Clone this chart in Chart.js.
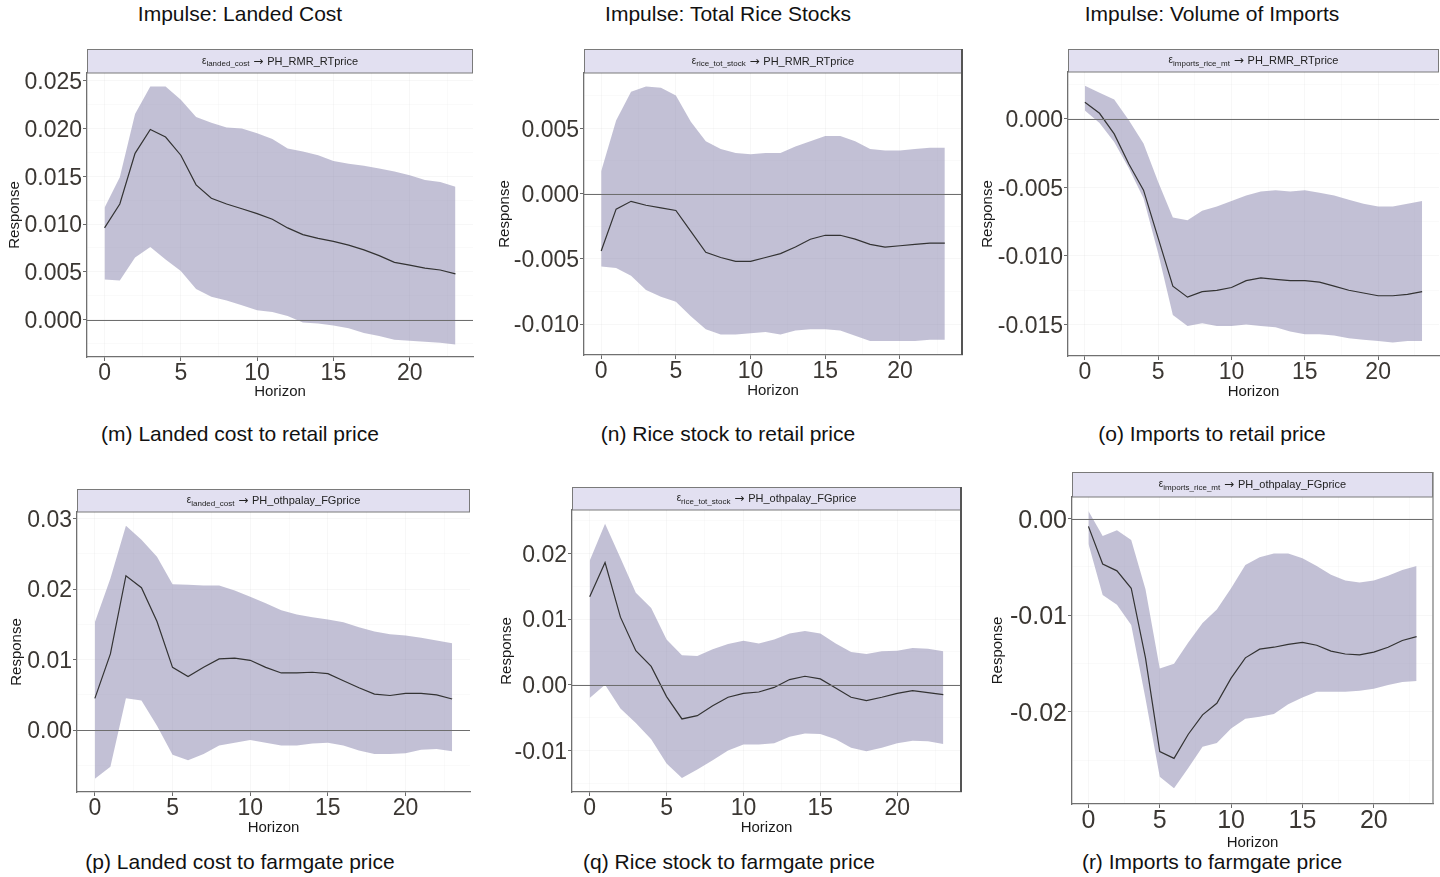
<!DOCTYPE html>
<html>
<head>
<meta charset="utf-8">
<script src="https://cdn.jsdelivr.net/npm/chart.js@4/dist/chart.umd.min.js"></script>
<style>
  body { margin: 0; width: 1440px; height: 877px; background: #fff; position: relative; overflow: hidden;
         font-family: "Liberation Sans", Arial, sans-serif; }
  .lbl { position: absolute; font-size: 21px; line-height: 24px; color: #111; white-space: nowrap; transform: translateX(-50%); }
  .panel { position: absolute; }
</style>
</head>
<body>

<div class="lbl" style="left:240px; top:2px;">Impulse: Landed Cost</div>
<div class="lbl" style="left:728px; top:2px;">Impulse: Total Rice Stocks</div>
<div class="lbl" style="left:1212px; top:2px;">Impulse: Volume of Imports</div>

<div class="lbl" style="left:240px; top:422px;">(m) Landed cost to retail price</div>
<div class="lbl" style="left:728px; top:422px;">(n) Rice stock to retail price</div>
<div class="lbl" style="left:1212px; top:422px;">(o) Imports to retail price</div>
<div class="lbl" style="left:240px; top:850px;">(p) Landed cost to farmgate price</div>
<div class="lbl" style="left:729px; top:850px;">(q) Rice stock to farmgate price</div>
<div class="lbl" style="left:1212px; top:850px;">(r) Imports to farmgate price</div>

<div id="panels"></div>

<script>
const horizon = [0,1,2,3,4,5,6,7,8,9,10,11,12,13,14,15,16,17,18,19,20,21,22,23];
const xTicks = [0, 5, 10, 15, 20];

// (m) landed cost -> retail price
const landedRetailIrf   = [0.0096,0.0121,0.0174,0.0199,0.0191,0.0172,0.0141,0.0127,0.0121,0.0116,0.0111,0.0105,0.0096,0.0089,0.0085,0.0082,0.0078,0.0073,0.0067,0.0060,0.0057,0.0054,0.0052,0.0048];
const landedRetailUpper = [0.0117,0.0149,0.0215,0.0244,0.0244,0.0230,0.0212,0.0206,0.0201,0.0200,0.0195,0.0189,0.0179,0.0176,0.0172,0.0166,0.0163,0.0161,0.0158,0.0155,0.0151,0.0146,0.0144,0.0139];
const landedRetailLower = [0.0042,0.0041,0.0065,0.0076,0.0063,0.0051,0.0032,0.0024,0.0020,0.0015,0.0010,0.0008,0.0004,-0.0003,-0.0004,-0.0006,-0.0009,-0.0014,-0.0017,-0.0021,-0.0022,-0.0023,-0.0024,-0.0026];
const landedRetailTicks = [0, 0.005, 0.01, 0.015, 0.02, 0.025];

// (n) rice stock -> retail price
const stockRetailIrf   = [-0.0044,-0.0012,-0.0006,-0.0009,-0.0011,-0.0013,-0.0029,-0.0045,-0.0049,-0.0052,-0.0052,-0.0049,-0.0046,-0.0041,-0.0035,-0.0032,-0.0032,-0.0035,-0.0039,-0.0041,-0.0040,-0.0039,-0.0038,-0.0038];
const stockRetailUpper = [0.0017,0.0056,0.0078,0.0082,0.0081,0.0075,0.0055,0.0040,0.0034,0.0031,0.0030,0.0031,0.0031,0.0036,0.0040,0.0044,0.0044,0.0040,0.0034,0.0033,0.0033,0.0034,0.0035,0.0035];
const stockRetailLower = [-0.0056,-0.0057,-0.0063,-0.0074,-0.0079,-0.0083,-0.0094,-0.0104,-0.0108,-0.0108,-0.0107,-0.0106,-0.0108,-0.0105,-0.0104,-0.0104,-0.0105,-0.0109,-0.0113,-0.0113,-0.0113,-0.0113,-0.0112,-0.0112];
const stockRetailTicks = [-0.01, -0.005, 0, 0.005];

// (o) imports -> retail price
const importsRetailIrf   = [0.0012,0.0004,-0.0011,-0.0033,-0.0052,-0.0087,-0.0122,-0.0130,-0.0126,-0.0125,-0.0123,-0.0118,-0.0116,-0.0117,-0.0118,-0.0118,-0.0119,-0.0122,-0.0125,-0.0127,-0.0129,-0.0129,-0.0128,-0.0126];
const importsRetailUpper = [0.0024,0.0019,0.0014,-0.0001,-0.0018,-0.0046,-0.0072,-0.0074,-0.0067,-0.0064,-0.0060,-0.0056,-0.0053,-0.0052,-0.0053,-0.0052,-0.0054,-0.0056,-0.0059,-0.0062,-0.0064,-0.0064,-0.0062,-0.0060];
const importsRetailLower = [0.0006,-0.0003,-0.0017,-0.0036,-0.0058,-0.0098,-0.0143,-0.0151,-0.0149,-0.0151,-0.0151,-0.0150,-0.0151,-0.0152,-0.0155,-0.0157,-0.0157,-0.0158,-0.0160,-0.0161,-0.0162,-0.0163,-0.0162,-0.0162];
const importsRetailTicks = [-0.015, -0.01, -0.005, 0];

// (p) landed cost -> farmgate price
const landedFarmIrf   = [0.0045,0.0108,0.0219,0.0202,0.0154,0.0089,0.0076,0.0089,0.0101,0.0102,0.0099,0.0089,0.0081,0.0081,0.0082,0.0080,0.0070,0.0060,0.0051,0.0049,0.0052,0.0052,0.0050,0.0044];
const landedFarmUpper = [0.0153,0.0215,0.0290,0.0270,0.0246,0.0207,0.0206,0.0205,0.0205,0.0198,0.0189,0.0180,0.0170,0.0164,0.0160,0.0157,0.0153,0.0146,0.0140,0.0136,0.0134,0.0131,0.0127,0.0123];
const landedFarmLower = [-0.0069,-0.0052,0.0045,0.0042,0.0006,-0.0035,-0.0043,-0.0034,-0.0022,-0.0018,-0.0014,-0.0018,-0.0022,-0.0022,-0.0019,-0.0018,-0.0022,-0.0029,-0.0034,-0.0034,-0.0033,-0.0028,-0.0027,-0.0030];
const landedFarmTicks = [0, 0.01, 0.02, 0.03];

// (q) rice stock -> farmgate price
const stockFarmIrf   = [0.0134,0.0186,0.0103,0.0052,0.0028,-0.0018,-0.0052,-0.0047,-0.0032,-0.0019,-0.0013,-0.0011,-0.0004,0.0008,0.0013,0.0009,-0.0005,-0.0019,-0.0024,-0.0019,-0.0013,-0.0009,-0.0012,-0.0015];
const stockFarmUpper = [0.0189,0.0245,0.0193,0.0140,0.0117,0.0069,0.0045,0.0044,0.0054,0.0062,0.0067,0.0063,0.0069,0.0078,0.0082,0.0078,0.0063,0.0050,0.0047,0.0051,0.0052,0.0056,0.0055,0.0051];
const stockFarmLower = [-0.0020,0.0000,-0.0036,-0.0058,-0.0083,-0.0120,-0.0142,-0.0129,-0.0115,-0.0100,-0.0091,-0.0091,-0.0089,-0.0079,-0.0074,-0.0075,-0.0083,-0.0096,-0.0101,-0.0096,-0.0089,-0.0085,-0.0086,-0.0090];
const stockFarmTicks = [-0.01, 0, 0.01, 0.02];

// (r) imports -> farmgate price
const importsFarmIrf   = [-0.0008,-0.0047,-0.0054,-0.0072,-0.0144,-0.0241,-0.0248,-0.0223,-0.0203,-0.0191,-0.0165,-0.0144,-0.0135,-0.0133,-0.0130,-0.0128,-0.0131,-0.0137,-0.0140,-0.0141,-0.0138,-0.0133,-0.0126,-0.0122];
const importsFarmUpper = [0.0008,-0.0018,-0.0012,-0.0022,-0.0073,-0.0155,-0.0150,-0.0128,-0.0108,-0.0094,-0.0072,-0.0048,-0.0040,-0.0036,-0.0036,-0.0041,-0.0049,-0.0058,-0.0064,-0.0066,-0.0064,-0.0059,-0.0053,-0.0049];
const importsFarmLower = [-0.0026,-0.0079,-0.0089,-0.0110,-0.0186,-0.0267,-0.0279,-0.0258,-0.0236,-0.0232,-0.0217,-0.0207,-0.0205,-0.0202,-0.0192,-0.0185,-0.0179,-0.0179,-0.0179,-0.0178,-0.0176,-0.0172,-0.0169,-0.0168];
const importsFarmTicks = [-0.02, -0.01, 0];

const FONT = '"Liberation Sans", Arial, sans-serif';

// canvas placement for each facet: left/top/width/height of canvas, axis box sizes, strip height
const panels = [
  { irf: landedRetailIrf, up: landedRetailUpper, lo: landedRetailLower, ticks: landedRetailTicks, dec: 3,
    yMin: -0.0039, yMax: 0.0258, shock: 'landed_cost', target: 'PH_RMR_RTprice',
    left: 6, top: 48, width: 469, height: 353, yW: 81, xH: 44, strip: 25, tickSize: 23, rightBorder: null },
  { irf: stockRetailIrf, up: stockRetailUpper, lo: stockRetailLower, ticks: stockRetailTicks, dec: 3,
    yMin: -0.01237, yMax: 0.00923, shock: 'rice_tot_stock', target: 'PH_RMR_RTprice',
    left: 496, top: 48, width: 468, height: 352, yW: 88, xH: 45, strip: 25, tickSize: 23, rightBorder: { color: '#555', w: 2 } },
  { irf: importsRetailIrf, up: importsRetailUpper, lo: importsRetailLower, ticks: importsRetailTicks, dec: 3,
    yMin: -0.01729, yMax: 0.00341, shock: 'imports_rice_mt', target: 'PH_RMR_RTprice',
    left: 979, top: 48, width: 461, height: 353, yW: 89, xH: 45, strip: 24, tickSize: 23, padRight: 1, rightBorder: null },
  { irf: landedFarmIrf, up: landedFarmUpper, lo: landedFarmLower, ticks: landedFarmTicks, dec: 2,
    yMin: -0.00879, yMax: 0.03094, shock: 'landed_cost', target: 'PH_othpalay_FGprice',
    left: 8, top: 488, width: 464, height: 349, yW: 69, xH: 45, strip: 24, tickSize: 23, rightBorder: null },
  { irf: stockFarmIrf, up: stockFarmUpper, lo: stockFarmLower, ticks: stockFarmTicks, dec: 2,
    yMin: -0.01632, yMax: 0.02661, shock: 'rice_tot_stock', target: 'PH_othpalay_FGprice',
    left: 498, top: 486, width: 465, height: 351, yW: 74, xH: 45, strip: 24, tickSize: 23, rightBorder: { color: '#555', w: 2 } },
  { irf: importsFarmIrf, up: importsFarmUpper, lo: importsFarmLower, ticks: importsFarmTicks, dec: 2,
    yMin: -0.02952, yMax: 0.00224, shock: 'imports_rice_mt', target: 'PH_othpalay_FGprice',
    left: 989, top: 471, width: 446, height: 381, yW: 83, xH: 48, strip: 26, tickSize: 25, rightBorder: { color: '#808080', w: 1.3 } }
];

// majors plus faint minor grid halfway between them, kept inside the range
function withMinor(majors, min, max) {
  const step = majors[1] - majors[0];
  const out = majors.map(v => ({ value: v, isMinor: false }));
  for (let i = -1; i < majors.length; i++) {
    const m = majors[0] + (i + 0.5) * step;
    if (m > min && m < max) out.push({ value: m, isMinor: true });
  }
  return out.sort((a, b) => a.value - b.value);
}

const facetDeco = {
  id: 'facetDeco',
  beforeDraw(chart, args, o) {
    const { ctx, chartArea: a } = chart;
    ctx.save();
    ctx.fillStyle = '#e2e0f1';
    ctx.fillRect(a.left, 1, a.right - a.left, a.top - 1);
    ctx.strokeStyle = '#7a7a7a';
    ctx.lineWidth = 1;
    ctx.strokeRect(a.left + 0.5, 1.5, a.right - a.left - 1, a.top - 1.5);
    // strip label: epsilon with subscript shock name, arrow, target
    const epsF = '10px ' + FONT, subF = '8px ' + FONT, arrF = '12px "DejaVu Sans", sans-serif', mainF = '11px ' + FONT;
    const arrow = ' \u2192 ', target = o.target;
    ctx.font = epsF; const wEps = ctx.measureText('\u03b5').width;
    ctx.font = subF; const wSub = ctx.measureText(o.shock).width;
    ctx.font = arrF; const wArr = ctx.measureText(arrow).width;
    ctx.font = mainF; const wTgt = ctx.measureText(target).width;
    let x = (a.left + a.right) / 2 - (wEps + wSub + wArr + wTgt) / 2;
    const y = (1 + a.top) / 2 + 0.5;
    ctx.fillStyle = '#222';
    ctx.textBaseline = 'middle';
    ctx.textAlign = 'left';
    ctx.font = epsF; ctx.fillText('\u03b5', x, y - 0.5); x += wEps;
    ctx.font = subF; ctx.fillText(o.shock, x, y + 2.5); x += wSub;
    ctx.font = arrF; ctx.fillText(arrow, x, y); x += wArr;
    ctx.font = mainF; ctx.fillText(target, x, y);
    ctx.restore();
  },
  afterDatasetsDraw(chart, args, o) {
    const { ctx, chartArea: a, scales } = chart;
    ctx.save();
    const y0 = Math.round(scales.y.getPixelForValue(0)) + 0.5;
    ctx.strokeStyle = '#6e6e6e';
    ctx.lineWidth = 1;
    ctx.beginPath(); ctx.moveTo(a.left, y0); ctx.lineTo(a.right, y0); ctx.stroke();
    if (o.rightBorder) {
      ctx.strokeStyle = o.rightBorder.color;
      ctx.lineWidth = o.rightBorder.w;
      ctx.beginPath(); ctx.moveTo(a.right, 1); ctx.lineTo(a.right, a.bottom); ctx.stroke();
    }
    ctx.restore();
  }
};

const host = document.getElementById('panels');
panels.forEach((p, i) => {
  const wrap = document.createElement('div');
  wrap.className = 'panel';
  wrap.style.left = p.left + 'px'; wrap.style.top = p.top + 'px';
  const cv = document.createElement('canvas');
  cv.width = p.width; cv.height = p.height;
  cv.style.width = p.width + 'px'; cv.style.height = p.height + 'px';
  wrap.appendChild(cv); host.appendChild(wrap);

  const pts = arr => horizon.map((h, k) => ({ x: h, y: arr[k] }));
  const tickFont = { family: FONT, size: p.tickSize, lineHeight: 1 };
  const titleFont = { family: FONT, size: 15, lineHeight: 1.2 };
  const faint = c => c.tick && c.tick.isMinor ? 'rgba(0,0,0,0.018)' : 'rgba(0,0,0,0.03)';
  const tickCol = c => c.tick && c.tick.isMinor ? 'rgba(0,0,0,0)' : '#6a6a6a';

  new Chart(cv, {
    type: 'line',
    data: {
      datasets: [
        { data: pts(p.irf), borderColor: '#333', borderWidth: 1.2, pointRadius: 0, fill: false, tension: 0 },
        { data: pts(p.up), borderWidth: 0, borderColor: 'rgba(0,0,0,0)', pointRadius: 0, fill: '+1',
          backgroundColor: 'rgba(133,130,172,0.5)', tension: 0 },
        { data: pts(p.lo), borderWidth: 0, borderColor: 'rgba(0,0,0,0)', pointRadius: 0, fill: false, tension: 0 }
      ]
    },
    options: {
      responsive: false,
      animation: false,
      events: [],
      layout: { padding: { top: p.strip, right: p.padRight != null ? p.padRight : 2, left: 0, bottom: 0 } },
      plugins: {
        legend: { display: false },
        tooltip: { enabled: false },
        facetDeco: { shock: p.shock, target: p.target, rightBorder: p.rightBorder }
      },
      scales: {
        x: {
          type: 'linear', min: -1.15, max: 24.15,
          afterBuildTicks: s => { s.ticks = withMinor(xTicks, -1.15, 24.15); },
          afterFit: s => { s.height = p.xH; },
          ticks: { autoSkip: false, maxRotation: 0, padding: 1, color: '#3b3733', font: tickFont,
                   callback: (v, k, t) => t[k].isMinor ? '' : String(v) },
          grid: { color: faint, tickColor: tickCol, tickLength: 4, lineWidth: 1 },
          border: { display: true, color: '#707070', width: 1.3 },
          title: { display: true, text: 'Horizon', color: '#1a1a1a', font: titleFont, padding: 0 }
        },
        y: {
          type: 'linear', min: p.yMin, max: p.yMax,
          afterBuildTicks: s => { s.ticks = withMinor(p.ticks, p.yMin, p.yMax); },
          afterFit: s => { s.width = p.yW; },
          ticks: { autoSkip: false, padding: 1, labelOffset: 2, color: '#3b3733', font: tickFont,
                   callback: (v, k, t) => t[k].isMinor ? '' : v.toFixed(p.dec) },
          grid: { color: faint, tickColor: tickCol, tickLength: 4, lineWidth: 1 },
          border: { display: true, color: '#707070', width: 1.3 },
          title: { display: true, text: 'Response', color: '#1a1a1a', font: titleFont, padding: 0 }
        }
      }
    },
    plugins: [facetDeco]
  });
});
</script>
</body>
</html>
